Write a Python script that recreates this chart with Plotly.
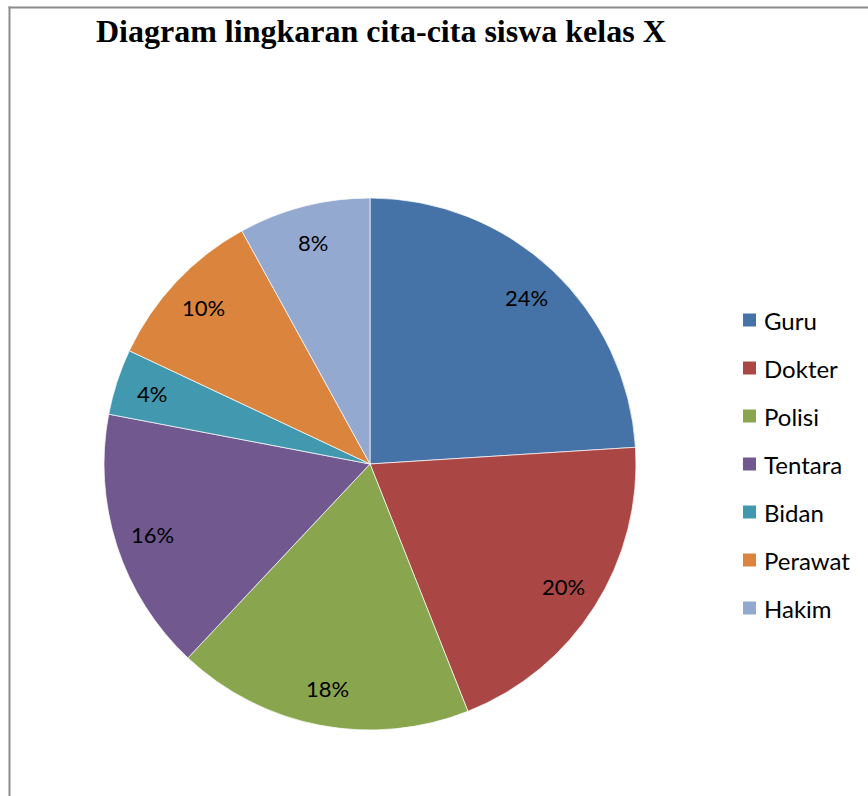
import math
import plotly.graph_objects as go

title = "Diagram lingkaran cita-cita siswa kelas X"
categories = ["Guru", "Dokter", "Polisi", "Tentara", "Bidan", "Perawat", "Hakim"]
values = [24, 20, 18, 16, 4, 10, 8]
colors = ["#4572A7", "#AA4643", "#89A54E", "#71588F", "#4198AF", "#DB843D", "#93A9CF"]

W, H = 868, 796
cx, cy, r = 370, 464, 266  # pie centre / radius in px

fig = go.Figure(go.Pie(
    labels=categories, values=values, sort=False, direction="clockwise", rotation=0,
    marker=dict(colors=colors, line=dict(color="rgba(255,255,255,0.7)", width=1)),
    textinfo="none", hoverinfo="label+percent", showlegend=False,
    domain=dict(x=[(cx - r) / W, (cx + r) / W], y=[(H - cy - r) / H, (H - cy + r) / H]),
))

annotations = []
shapes = []
total = sum(values)
cum = 0
for cat, v in zip(categories, values):
    mid = (cum + v / 2) / total * 2 * math.pi
    cum += v
    px = cx + 0.86 * r * math.sin(mid)
    py = cy - 0.86 * r * math.cos(mid)
    annotations.append(dict(x=px / W, y=1 - py / H, xref="paper", yref="paper",
                            xanchor="center", yanchor="middle",
                            text=f"{round(v / total * 100)}%", showarrow=False,
                            font=dict(family="Lato", size=22, color="#000")))

# legend
lx, ly0, step = 743, 320, 48.0
for i, (cat, col) in enumerate(zip(categories, colors)):
    y = ly0 + i * step
    shapes.append(dict(type="rect", xref="paper", yref="paper",
                       x0=lx / W, x1=(lx + 13) / W, y0=1 - (y - 6.5) / H, y1=1 - (y + 6.5) / H,
                       fillcolor=col, line=dict(width=0)))
    annotations.append(dict(x=762 / W, y=1 - y / H, xref="paper", yref="paper",
                            text=cat, showarrow=False, xanchor="left", yanchor="middle",
                            font=dict(family="Lato", size=24, color="#000")))

# title
annotations.append(dict(x=381 / W, y=1 - 31 / H, xref="paper", yref="paper", text=f"<b>{title}</b>",
                        showarrow=False, xanchor="center", yanchor="middle",
                        font=dict(family="Liberation Serif", size=32, color="#000")))

# frame
shapes.append(dict(type="line", xref="paper", yref="paper", x0=9.5 / W, x1=9.5 / W,
                   y0=0, y1=1 - 6.5 / H, line=dict(color="#8c8c8c", width=2)))
shapes.append(dict(type="line", xref="paper", yref="paper", x0=8.5 / W, x1=1,
                   y0=1 - 7.5 / H, y1=1 - 7.5 / H, line=dict(color="#8c8c8c", width=2)))

fig.update_layout(width=W, height=H, margin=dict(l=0, r=0, t=0, b=0),
                  paper_bgcolor="white", plot_bgcolor="white",
                  annotations=annotations, shapes=shapes)
fig.write_html("out.html")
